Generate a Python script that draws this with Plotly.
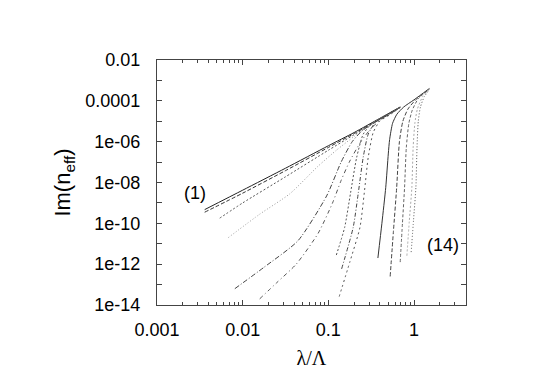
import plotly.graph_objects as go

# ---- data (lambda/Lambda, Im(n_eff)) ----
# left group
c1_x = [0.0036, 0.01, 0.0316, 0.1, 0.2, 0.4, 0.69]
c1_y = [4.7e-10, 4.2e-9, 5.0e-8, 6.3e-7, 2.8e-6, 1.4e-5, 5.0e-5]
c2_x = [0.0036, 0.01, 0.0316, 0.1, 0.2, 0.4, 0.69]
c2_y = [3.5e-10, 3.0e-9, 3.8e-8, 5.2e-7, 2.5e-6, 1.3e-5, 4.9e-5]
c3_x = [0.0054, 0.01, 0.0316, 0.1, 0.2, 0.4, 0.69]
c3_y = [1.8e-10, 1.0e-9, 1.9e-8, 3.8e-7, 2.2e-6, 1.26e-5, 4.8e-5]
c4_x = [0.0068, 0.0158, 0.0355, 0.0759, 0.126, 0.2, 0.355, 0.69]
c4_y = [2.0e-11, 2.8e-10, 2.8e-9, 6.3e-8, 4.0e-7, 1.8e-6, 1.0e-5, 4.7e-5]
c5_x = [0.0081, 0.0178, 0.0442, 0.0955, 0.141, 0.19, 0.25, 0.4, 0.69]
c5_y = [6.3e-14, 7.1e-13, 1.4e-11, 2.2e-9, 1.0e-7, 1.0e-6, 3.5e-6, 1.26e-5, 4.8e-5]
c6_x = [0.0158, 0.0251, 0.0422, 0.0759, 0.112, 0.141, 0.178, 0.24, 0.316, 0.447, 0.69]
c6_y = [2.0e-14, 1.26e-13, 1.0e-12, 3.2e-11, 1.0e-9, 1.26e-8, 1.12e-7, 1.0e-6, 4.5e-6, 1.6e-5, 4.7e-5]
# middle group
c7_x = [0.124, 0.155, 0.182, 0.214, 0.255, 0.316, 0.447, 0.69]
c7_y = [2.8e-12, 6.3e-11, 3.2e-9, 1.66e-7, 2.3e-6, 7.1e-6, 1.66e-5, 4.7e-5]
c8_x = [0.143, 0.195, 0.224, 0.255, 0.292, 0.355, 0.5, 0.69]
c8_y = [5.9e-13, 6.3e-11, 3.2e-9, 1.66e-7, 2.3e-6, 8.9e-6, 2.0e-5, 4.7e-5]
c9_x = [0.134, 0.178, 0.234, 0.263, 0.292, 0.334, 0.398, 0.525, 0.69]
c9_y = [2.6e-14, 1.26e-12, 6.3e-11, 3.2e-9, 1.66e-7, 2.8e-6, 1.0e-5, 2.1e-5, 4.7e-5]
# right group
c10_x = [0.379, 0.422, 0.468, 0.501, 0.519, 0.562, 0.631, 0.759, 1.0, 1.51]
c10_y = [2.0e-12, 1.0e-10, 5.8e-9, 2.5e-7, 1.26e-6, 7.9e-6, 2.2e-5, 5.0e-5, 1.12e-4, 4.0e-4]
c11_x = [0.527, 0.575, 0.628, 0.676, 0.741, 0.851, 1.047, 1.51]
c11_y = [2.5e-13, 4.0e-11, 5.8e-9, 1.0e-6, 1.0e-5, 4.0e-5, 1.12e-4, 3.8e-4]
c12_x = [0.69, 0.733, 0.776, 0.813, 0.871, 0.955, 1.12, 1.51]
c12_y = [1.26e-12, 1.0e-10, 5.8e-9, 5.0e-7, 7.9e-6, 3.5e-5, 1.26e-4, 3.7e-4]
c13_x = [0.826, 0.881, 0.944, 0.977, 1.023, 1.096, 1.26, 1.51]
c13_y = [2.6e-12, 1.26e-10, 5.8e-9, 5.0e-7, 7.9e-6, 4.0e-5, 1.58e-4, 3.6e-4]
c14_x = [0.927, 0.989, 1.052, 1.084, 1.122, 1.189, 1.318, 1.51]
c14_y = [3.9e-12, 1.58e-10, 5.8e-9, 5.0e-7, 1.0e-5, 5.0e-5, 1.58e-4, 3.5e-4]

x_ticks = [0.001, 0.01, 0.1, 1]
x_ticklabels = ["0.001", "0.01", "0.1", "1"]
y_ticks = [1e-2, 1e-4, 1e-6, 1e-8, 1e-10, 1e-12, 1e-14]
y_ticklabels = ["0.01", "0.0001", "1e-06", "1e-08", "1e-10", "1e-12", "1e-14"]
y_minor_ticks = [1e-3, 1e-5, 1e-7, 1e-9, 1e-11, 1e-13]
curve_labels = ["(1)", "(14)"]

curves = [
    (c1_x, c1_y, "solid", "#222222"),
    (c2_x, c2_y, "4px,2px", "#333333"),
    (c3_x, c3_y, "2px,2px", "#555555"),
    (c4_x, c4_y, "1px,2px", "#9a9a9a"),
    (c5_x, c5_y, "5px,2px,1px,2px", "#444444"),
    (c6_x, c6_y, "4px,3px,1px,3px", "#555555"),
    (c7_x, c7_y, "2px,2px", "#555555"),
    (c8_x, c8_y, "4px,2px,1px,2px", "#444444"),
    (c9_x, c9_y, "2px,3px", "#555555"),
    (c10_x, c10_y, "solid", "#333333"),
    (c11_x, c11_y, "4px,2px", "#444444"),
    (c12_x, c12_y, "3px,2px", "#666666"),
    (c13_x, c13_y, "2px,2px", "#aaaaaa"),
    (c14_x, c14_y, "1px,2px", "#555555"),
]

fig = go.Figure()
for xs, ys, dash, col in curves:
    fig.add_trace(go.Scatter(x=xs, y=ys, mode="lines",
                             line=dict(color=col, width=1, dash=dash, shape="spline", smoothing=0.6),
                             hoverinfo="skip", showlegend=False))

minor_x = [m * 10 ** e for e in (-3, -2, -1, 0) for m in range(2, 10) if m * 10 ** e < 4.05]

fig.add_annotation(x=-2.56, y=-8.5, xref="x", yref="y", text=curve_labels[0], showarrow=False,
                   font=dict(size=18, color="black"))
fig.add_annotation(x=0.34, y=-11.05, xref="x", yref="y", text=curve_labels[1], showarrow=False,
                   font=dict(size=18, color="black"))

fig.update_layout(
    width=541, height=373,
    margin=dict(l=149, r=83, t=52, b=76),
    paper_bgcolor="white", plot_bgcolor="white",
    font=dict(family="Liberation Sans, Arial, sans-serif", size=18, color="black"),
    showlegend=False,
    xaxis=dict(type="log", range=[-3, 0.607], tickvals=x_ticks, ticktext=x_ticklabels,
               ticks="inside", ticklen=5, tickcolor="#444", showline=True, linecolor="#444",
               linewidth=1, mirror="allticks", showgrid=False, zeroline=False,
               ticklabelstandoff=8,
               minor=dict(tickvals=minor_x, ticks="inside", ticklen=3, tickcolor="#444", showgrid=False),
               title=dict(text="λ/Λ", font=dict(family="Liberation Serif, Times New Roman, serif", size=20),
                          standoff=12)),
    yaxis=dict(type="log", range=[-14, -2], tickvals=y_ticks, ticktext=y_ticklabels,
               ticks="inside", ticklen=5, tickcolor="#444", showline=True, linecolor="#444",
               linewidth=1, mirror="allticks", showgrid=False, zeroline=False,
               ticklabelstandoff=12,
               minor=dict(tickvals=y_minor_ticks, ticks="inside", ticklen=5, tickcolor="#444", showgrid=False),
               title=dict(text="Im(n<sub>eff</sub>)", standoff=8)),
)

fig.write_html("out.html")
